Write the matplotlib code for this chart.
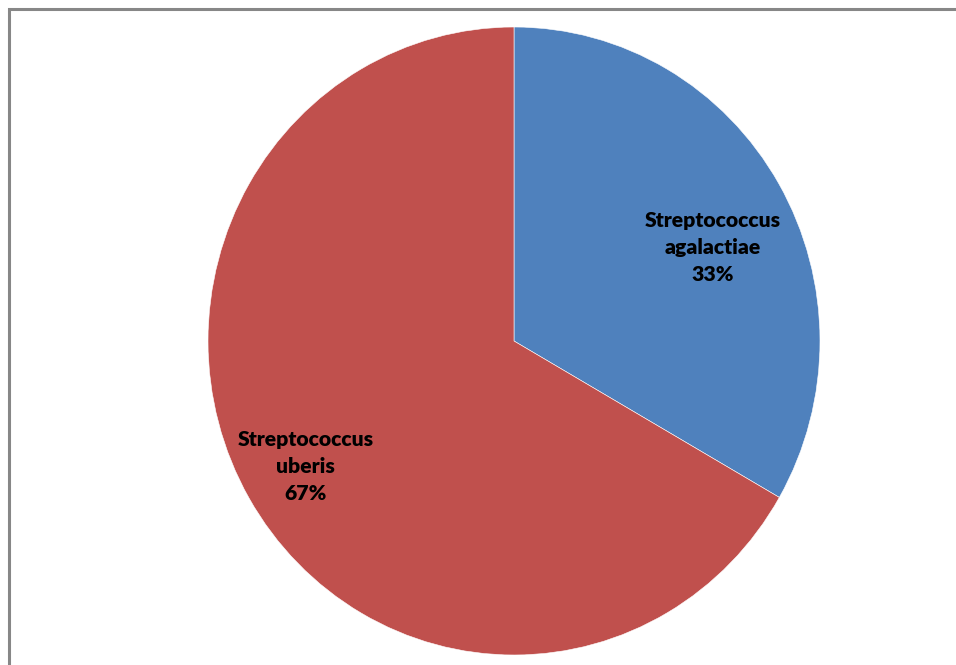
import numpy as np
import matplotlib
matplotlib.use("Agg")
import matplotlib.pyplot as plt
from matplotlib.patches import Rectangle

labels = ["Streptococcus\nagalactiae", "Streptococcus\nuberis"]
values = [33.3, 66.7]
colors = ["#4F81BD", "#C0504D"]

# label placement (layout): polar angle in degrees and radius fraction
label_angle = [24.5, 210.5]
label_radius = [0.715, 0.79]

W, H = 956, 665
fig = plt.figure(figsize=(W / 100, H / 100), dpi=100)
fig.patch.set_facecolor("white")

# frame border (open on right and bottom, as in reference)
fig.patches.append(Rectangle((9 / W, -0.1), 1.2, (H - 9) / H + 0.1,
                             transform=fig.transFigure, fill=False,
                             edgecolor="#878787", linewidth=2.2))

# pie area in pixels: left 208, right 820, top 27, bottom 655
ax = fig.add_axes([208 / W, (H - 655) / H, 612 / W, 628 / H])
wedges, _ = ax.pie(values, colors=colors, startangle=90, counterclock=False,
                   wedgeprops=dict(edgecolor="white", linewidth=0.4))
ax.set_aspect("auto")
ax.set_xlim(-1, 1)
ax.set_ylim(-1, 1)
ax.axis("off")

total = sum(values)
for lab, v, a, d in zip(labels, values, label_angle, label_radius):
    ang = np.deg2rad(a)
    ax.text(d * np.cos(ang), d * np.sin(ang),
            f"{lab}\n{round(v / total * 100):d}%",
            ha="center", va="center", fontsize=15.2, fontweight="heavy",
            family="Lato", color="black", linespacing=1.5)

fig.savefig("out.png", dpi=100, facecolor="white")
